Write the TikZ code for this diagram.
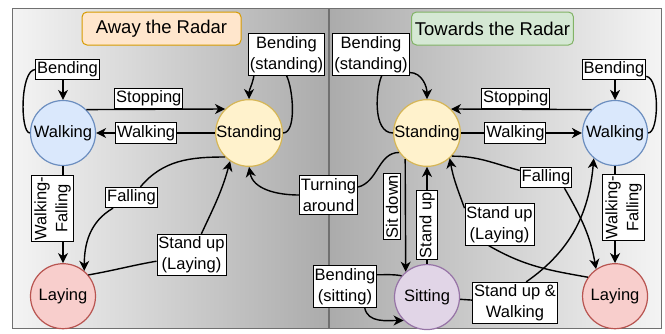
\documentclass[tikz,border=0pt]{standalone}
\usepackage{fontspec}
\setmainfont{Liberation Sans}
\usepackage{xcolor}
\definecolor{walkFill}{HTML}{DAE8FC}
\definecolor{walkBorder}{HTML}{6C8EBF}
\definecolor{standFill}{HTML}{FFF2CC}
\definecolor{standBorder}{HTML}{D6B656}
\definecolor{layFill}{HTML}{F8CECC}
\definecolor{layBorder}{HTML}{B85450}
\definecolor{sitFill}{HTML}{E1D5E7}
\definecolor{sitBorder}{HTML}{9673A6}
\definecolor{awayFill}{HTML}{FFE6CC}
\definecolor{awayBorder}{HTML}{D79B00}
\definecolor{towardFill}{HTML}{D5E8D4}
\definecolor{towardBorder}{HTML}{82B366}
\definecolor{panelLight}{HTML}{F4F4F4}
\definecolor{panelDark}{HTML}{ABABAB}
\definecolor{panelBorder}{HTML}{707070}
\usetikzlibrary{arrows.meta,positioning}
\newcommand{\statefont}{\fontsize{16.5}{21}\selectfont}
\newcommand{\titlefont}{\fontsize{18.5}{22}\selectfont}
\tikzset{
    state/.style={
        circle,
        minimum size=65pt,
        inner sep=0pt,
        line width=1.2pt,
        font=\statefont
    },
    walkstate/.style={state, fill=walkFill, draw=walkBorder},
    standstate/.style={state, fill=standFill, draw=standBorder},
    laystate/.style={state, fill=layFill, draw=layBorder},
    sitstate/.style={state, fill=sitFill, draw=sitBorder},
    title/.style={
        rectangle,
        rounded corners=5pt,
        minimum width=159pt,
        minimum height=33pt,
        line width=1pt,
        font=\titlefont
    },
    lbl/.style={
        draw=black,
        fill=white,
        line width=0.9pt,
        align=center,
        inner xsep=1.5pt,
        inner ysep=2.5pt,
        font=\statefont
    },
    vlbl/.style={lbl, rotate=90},
    line/.style={
        line width=1.4pt,
        color=black
    },
    arrow/.style={
        line,
        -{Stealth[length=10pt,width=10pt,inset=3pt]}
    }
}

\begin{document}
\begin{tikzpicture}[x=1pt,y=-1pt]
    \useasboundingbox (0,0) rectangle (665,333);
    % Panels
    \shade[left color=panelLight, right color=panelDark] (12,8) rectangle (329,328);
    \shade[left color=panelDark, right color=panelLight] (329,8) rectangle (661,328);
    \draw[panelBorder, line width=1pt] (12,8) rectangle (661,328);
    \draw[panelBorder, line width=1.3pt] (329,8) -- (329,328);

    % Titles
    \node[title, fill=awayFill, draw=awayBorder] (titleL) at (161.5,28.5) {Away the Radar};
    \node[title, fill=towardFill, draw=towardBorder] (titleR) at (492.5,28.5) {Towards the Radar};

    % States, away the radar
    \node[walkstate] (walkL) at (63,133) {Walking};
    \node[standstate, right=119pt of walkL] (standL) {Standing};
    \node[laystate, below=97pt of walkL] (layL) {Laying};

    % States, towards the radar
    \node[standstate] (standR) at (427,133) {Standing};
    \node[walkstate, right=121pt of standR] (walkR) {Walking};
    \node[laystate, below=97pt of walkR] (layR) {Laying};
    \node[sitstate, below=97pt of standR] (sitR) {Sitting};

    % Labels on curved transitions
    \node[lbl] (bendL) at (67.5,69.5) {Bending};
    \node[lbl] (bendsL) at (286.5,54.5) {Bending\\(standing)};
    \node[lbl] (fallL) at (131.5,197.5) {Falling};
    \node[lbl] (suLL) at (191.5,255) {Stand up\\(Laying)};
    \node[lbl] (turn) at (328.5,195) {Turning\\around};
    \node[lbl] (bendsR) at (371,54.5) {Bending\\(standing)};
    \node[lbl] (bendR) at (614,69.5) {Bending};
    \node[lbl] (fallR) at (546,177.5) {Falling};
    \node[lbl] (suLR) at (499.5,224.5) {Stand up\\(Laying)};
    \node[lbl] (suW) at (515,303) {Stand up \&\\Walking};
    \node[lbl] (bsit) at (345,286.5) {Bending\\(sitting)};

    % Transitions, away the radar
    \draw[line] (walkL.west) .. controls (20,133) and (20,70) .. (bendL.west);
    \draw[arrow] (bendL.south -| walkL.north) -- (walkL.north);
    \draw[arrow] (walkL.45) -- node[lbl, pos=0.45, above=0pt] {Stopping} (standL.135);
    \draw[arrow] (standL) -- node[lbl, pos=0.58] {Walking} (walkL);
    \draw[line] (standL.east) .. controls (297,133) and (293,88) .. (bendsL.south);
    \draw[arrow] (bendsL.213) to[out=-100,in=90] (standL.north);
    \draw[arrow] (walkL) -- (layL);
    \draw[line] (standL.225) to[out=180,in=50] (fallL);
    \draw[arrow] (fallL) to[out=210,in=90] (layL.50);
    \draw[line] (layL.40) to[out=10,in=190] (suLL);
    \draw[arrow] (suLL) to[out=65,in=-105] (standL.236);
    \draw[line] (standR.215) to[out=180,in=15] (turn);
    \draw[arrow] (turn) to[out=180,in=-80] (standL.south);

    % Transitions, towards the radar
    \draw[arrow] (bendsR.-25) to[out=0,in=90] (standR.north);
    \draw[line] (standR.west) .. controls (372,133) and (376,88) .. (bendsR.-63);
    \draw[arrow] (walkR.135) -- node[lbl, pos=0.54, above=0pt] {Stopping} (standR.45);
    \draw[arrow] (standR) -- node[lbl, pos=0.45] {Walking} (walkR);
    \draw[arrow] (bendR.south -| walkR.north) -- (walkR.north);
    \draw[line] (walkR.east) .. controls (659,133) and (660,78) .. (bendR.-12);
    \draw[arrow] (standR.230) -- (sitR.130);
    \draw[arrow] (sitR) -- node[vlbl, pos=0.4] {Stand up} (standR);
    \draw[arrow] (walkR) -- (layR);
    \draw[line] (standR.-43) to[out=0,in=165] (fallR);
    \draw[arrow] (fallR.-30) to[out=-60,in=100] (layR.125);
    \draw[line] (layR.145) to[out=170,in=-30] (suLR.243);
    \draw[arrow] (suLR.155) to[out=110,in=-80] (standR.-48);
    \draw[line] (sitR) -- (suW);
    \draw[arrow] (suW.62) to[out=35,in=-95] (walkR.-130);
    \draw[line] (sitR.140) to[out=170,in=0] (bsit.20);
    \draw[arrow] (bsit.-47) to[out=-80,in=180] (sitR.225);

    % Labels beside straight transitions
    \node[vlbl] (wfL) at (52.5,208.5) {Walking-\\Falling};
    \node[vlbl] (wfR) at (623.5,207.5) {Walking-\\Falling};
    \node[vlbl] (sitdown) at (392,206.5) {Sit down};
\end{tikzpicture}
\end{document}
